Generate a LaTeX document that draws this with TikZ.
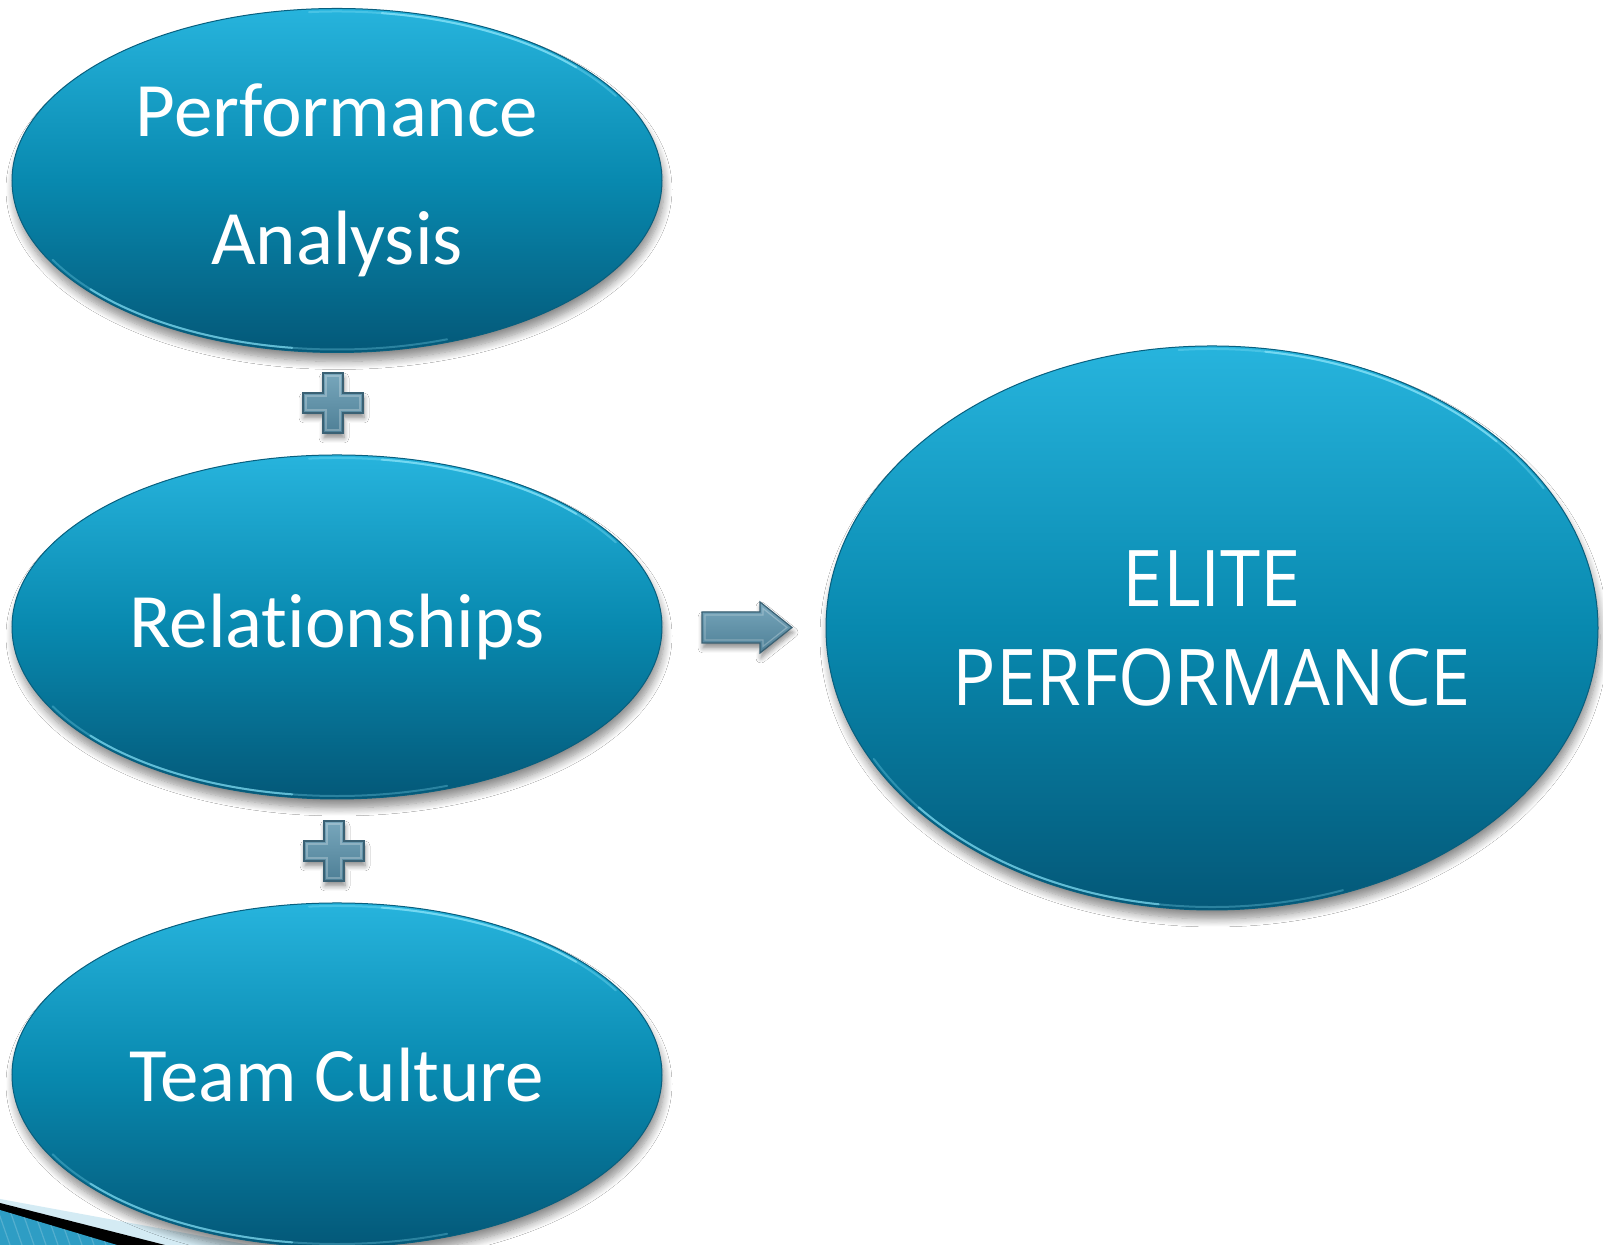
\documentclass[tikz,border=0pt]{standalone}
\usepackage{fontspec}
\newfontfamily\bubblefont[Ligatures=NoCommon]{Carlito}
\newfontfamily\elitefont[FakeStretch=0.925]{Open Sans}
\usetikzlibrary{shapes.geometric,shadows.blur}

\definecolor{bubtop}{HTML}{27B4DD}
\definecolor{bubmid}{HTML}{0889AF}
\definecolor{bubbot}{HTML}{045878}
\definecolor{bubedge}{HTML}{085F7E}
\definecolor{rimlight}{HTML}{86E2F8}
\definecolor{steeltop}{HTML}{78A7BC}
\definecolor{steelbot}{HTML}{4E7F96}
\definecolor{steeledge}{HTML}{3A6174}
\definecolor{bandlight}{HTML}{D4EBF4}
\definecolor{bandblue}{HTML}{2E9DC4}

\tikzset{
  bubble/.style={ellipse, inner sep=0pt, text=white,
    top color=bubtop, bottom color=bubbot, middle color=bubmid,
    draw=bubedge, line width=0.5pt,
    blur shadow={shadow xshift=1pt, shadow yshift=-4.5pt,
      shadow blur radius=4pt, shadow blur steps=10, shadow opacity=45}},
  small bubble/.style={bubble, minimum width=325pt, minimum height=172pt,
    font=\bubblefont\fontsize{38.5}{64}\selectfont, align=center},
  big bubble/.style={bubble, minimum width=386pt, minimum height=282pt,
    font=\elitefont\fontsize{39.1}{49.5}\selectfont, align=center},
  rim/.style={draw=rimlight, line width=1pt, line cap=round},
  steelfill/.style={top color=steeltop, bottom color=steelbot,
    draw=steeledge, line width=0.6pt,
    blur shadow={shadow xshift=0.5pt, shadow yshift=-2.5pt,
      shadow blur radius=2.5pt, shadow blur steps=6, shadow opacity=45}},
  steelbevel/.style={draw=white, opacity=0.25, line width=0.6pt},
  plussign/.pic={
    \path[steelfill] (-10,-30) -- (10,-30) -- (10,-10) -- (30,-10) -- (30,10)
      -- (10,10) -- (10,30) -- (-10,30) -- (-10,10) -- (-30,10) -- (-30,-10)
      -- (-10,-10) -- cycle;
    \path[steelbevel] (-7,-27) -- (7,-27) -- (7,-7) -- (27,-7) -- (27,7)
      -- (7,7) -- (7,27) -- (-7,27) -- (-7,7) -- (-27,7) -- (-27,-7)
      -- (-7,-7) -- cycle;
  },
  blockarrow/.pic={
    \path[steelfill] (-45,-15.5) -- (13,-15.5) -- (13,-25.5) -- (45,0)
      -- (13,25.5) -- (13,15.5) -- (-45,15.5) -- cycle;
    \path[steelbevel] (-42,-12.5) -- (16,-12.5) -- (16,-19) -- (40,0)
      -- (16,19) -- (16,12.5) -- (-42,12.5) -- cycle;
  }
}

% light rims along the upper and lower edges of a bubble:
% #1 node, #2 x radius, #3 y radius (both already inset)
\newcommand\bubblerims[3]{%
  \draw[rim, opacity=0.35] (#1.center) ++(30:#2 and #3) arc[start angle=30, end angle=95, x radius=#2, y radius=#3];
  \draw[rim, opacity=0.7] (#1.center) ++(42:#2 and #3) arc[start angle=42, end angle=82, x radius=#2, y radius=#3];
  \draw[rim, opacity=0.3] (#1.center) ++(208:#2 and #3) arc[start angle=208, end angle=290, x radius=#2, y radius=#3];
  \draw[rim, opacity=0.6] (#1.center) ++(220:#2 and #3) arc[start angle=220, end angle=262, x radius=#2, y radius=#3];
}

\begin{document}
\begin{tikzpicture}[x=0.5pt,y=0.5pt]
  % canvas
  \fill[white] (0,0) rectangle (1603,1245);
  \useasboundingbox (0,0) rectangle (1603,1245);

  % corner band of the slide theme
  \fill[bandlight] (0,46) -- (250,0) -- (0,0) -- cycle;
  \fill[black] (0,42) -- (165,0) -- (0,0) -- cycle;
  \fill[bandblue] (0,35) -- (117,0) -- (0,0) -- cycle;
  \begin{scope}
    \clip (0,35) -- (117,0) -- (0,0) -- cycle;
    \foreach \s in {-40,-28,...,120}
      \draw[white, opacity=0.18, line width=0.6pt] (\s,40) -- (\s+14,0);
  \end{scope}

  % the three factors
  \node[small bubble] (pa) at (337,1064.5) {Performance\\Analysis};
  \node[small bubble] (rel) at (337,618) {Relationships};
  \node[small bubble] (tc) at (337,170) {Team Culture};

  % the outcome
  \node[big bubble] (elite) at (1212,617) {ELITE\\PERFORMANCE};

  % bevel highlights on the rims
  \bubblerims{pa}{322}{169}
  \bubblerims{rel}{322}{169}
  \bubblerims{tc}{322}{169}
  \bubblerims{elite}{383}{279}

  % operators between the factors
  \pic (plusA) at (333,842) {plussign};
  \pic (plusB) at (334,394) {plussign};
  \pic (arrowR) at (747,617.5) {blockarrow};
\end{tikzpicture}
\end{document}
